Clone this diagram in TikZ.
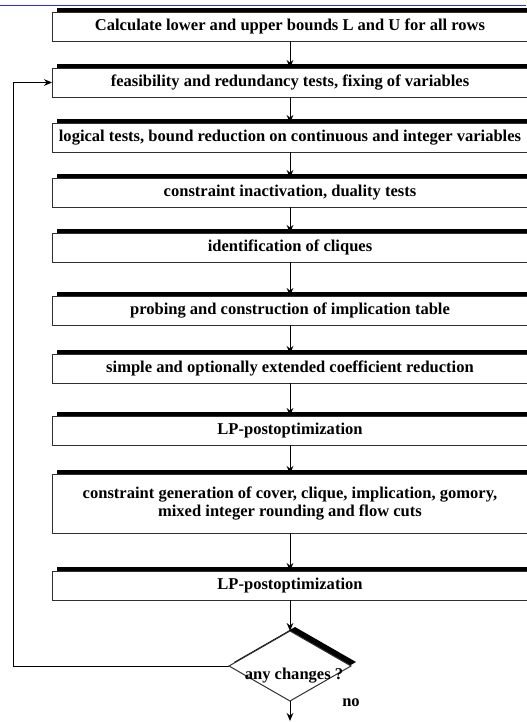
\documentclass[tikz,border=0pt]{standalone}
\usepackage{fontspec}
\setmainfont{Liberation Serif}
\usetikzlibrary{arrows.meta,positioning,shapes.geometric,shadows}
\definecolor{RuleBlue}{HTML}{2A2AF0}
\definecolor{EdgeGray}{HTML}{303030}

\begin{document}
\begin{tikzpicture}[x=0.75pt,y=-0.75pt,>={Stealth[length=6pt,width=5pt]},font=\fontsize{12.4}{13.5}\selectfont\bfseries]
\tikzstyle{stepbox}=[draw=EdgeGray,line width=0.75pt,fill=white,align=center,minimum width=357pt,minimum height=21.75pt,inner sep=0pt,outer sep=0pt,drop shadow={shadow xshift=3.75pt,shadow yshift=3pt,opacity=1,fill=black}]
\tikzstyle{decision}=[draw=EdgeGray,line width=0.75pt,fill=white,diamond,minimum width=91.5pt,minimum height=52.5pt,inner sep=0pt,outer sep=0pt,drop shadow={shadow xshift=3.75pt,shadow yshift=3pt,opacity=1,fill=black}]
\tikzstyle{flow}=[->,line width=0.75pt]
\useasboundingbox (0,0) rectangle (526,722);
\draw[RuleBlue,line width=1.1pt] (0,5.5) -- (526,5.5);
\node[stepbox] (bounds) at (290,26.5) {Calculate lower and upper bounds L and U for all rows};
\node[stepbox,below=20.25pt of bounds] (feas) {feasibility and redundancy tests, fixing of variables};
\node[stepbox,below=19.5pt of feas] (logic) {logical tests, bound reduction on continuous and integer variables};
\node[stepbox,below=19.5pt of logic] (inact) {constraint inactivation, duality tests};
\node[stepbox,below=19.5pt of inact] (clique) {identification of cliques};
\node[stepbox,below=25.5pt of clique] (probe) {probing and construction of implication table};
\node[stepbox,below=21.75pt of probe] (coef) {simple and optionally extended coefficient reduction};
\node[stepbox,below=24.75pt of coef] (lpa) {LP-postoptimization};
\node[stepbox,below=21.75pt of lpa,minimum height=44.25pt] (cuts) {constraint generation of cover, clique, implication, gomory,\\mixed integer rounding and flow cuts};
\node[stepbox,below=28.5pt of cuts] (lpb) {LP-postoptimization};
\node[decision,below=23.25pt of lpb,label={[xshift=3pt,yshift=-7.5pt]center:any changes ?}] (ask) {};
\coordinate[below=15pt of ask] (done);
\node[anchor=west,inner sep=0pt] (no) at ([xshift=39pt,yshift=-1.5pt]ask.south) {no};
\draw[flow] (bounds) -- (feas);
\draw[flow] (feas) -- (logic);
\draw[flow] (logic) -- (inact);
\draw[flow] (inact) -- (clique);
\draw[flow] (clique) -- (probe);
\draw[flow] (probe) -- (coef);
\draw[flow] (coef) -- (lpa);
\draw[flow] (lpa) -- (cuts);
\draw[flow] (cuts) -- (lpb);
\draw[flow] (lpb) -- (ask);
\draw[flow] (ask) -- (done);
\draw[flow] (ask.west) -| ([xshift=-29.25pt]feas.west) -- (feas.west);
\end{tikzpicture}
\end{document}
